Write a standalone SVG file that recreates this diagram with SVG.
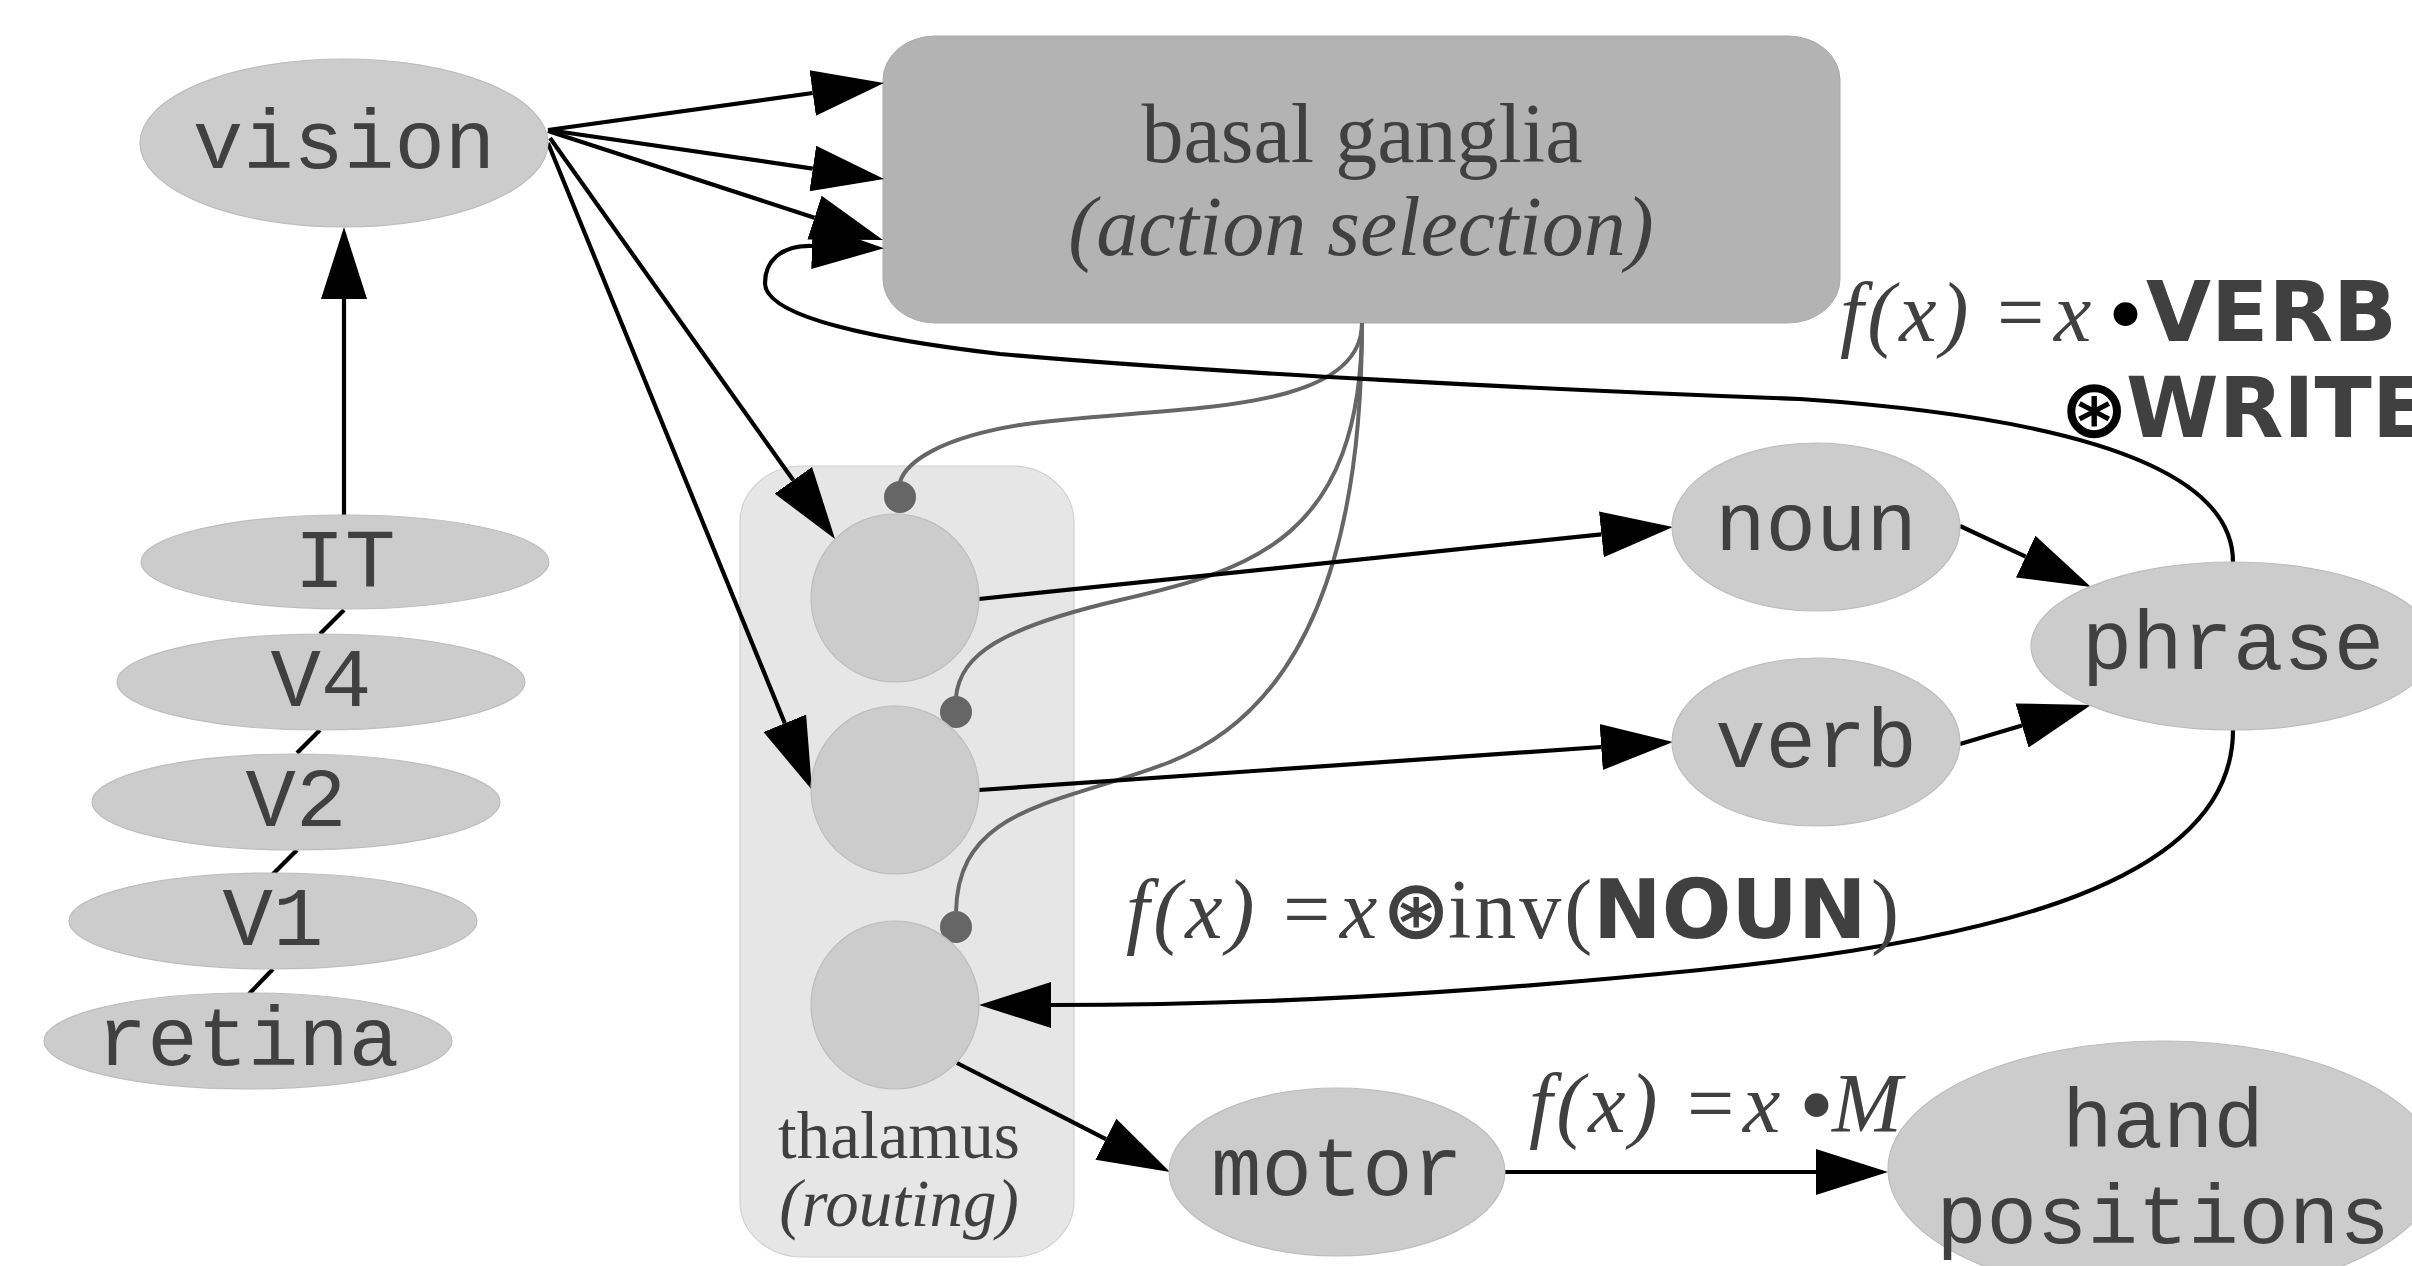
<svg xmlns="http://www.w3.org/2000/svg" width="2412" height="1266" viewBox="0 0 2412 1266">
  <defs>
    <marker id="arrow" markerUnits="userSpaceOnUse" markerWidth="80" markerHeight="60" viewBox="0 -30 80 60" refX="0" refY="0" orient="auto">
      <path d="M0,-23 L72,0 L0,23 z" fill="#000"/>
    </marker>
    <style>
      .node { fill: #cccccc; stroke: #bdbdbd; stroke-width: 1.2; }
      .mono { font-family: "Liberation Mono", "DejaVu Sans Mono", monospace; font-size: 84px; fill: #404040; text-anchor: middle; }
      .serif { font-family: "Liberation Serif", "DejaVu Serif", serif; fill: #404040; }
      .it { font-style: italic; }
      .sp { letter-spacing: 4px; }
      .sp3 { letter-spacing: 3px; }
      .bold { font-family: "DejaVu Sans", "Liberation Sans", sans-serif; font-weight: bold; font-style: normal; letter-spacing: 0; }
      .edge { fill: none; stroke: #000; stroke-width: 4.2; }
      .arr { marker-end: url(#arrow); }
      .inhib { fill: none; stroke: #666666; stroke-width: 4; }
      .dot { fill: #666666; }
    </style>
  </defs>

  <rect width="2412" height="1266" fill="#ffffff"/>

  <!-- thalamus container -->
  <g id="thalamus">
    <rect x="740" y="466" width="334" height="791" rx="62" ry="56" fill="#e6e6e6" stroke="#d0d0d0" stroke-width="1.2"/>
    <text class="serif" x="899" y="1158" font-size="67" text-anchor="middle">thalamus</text>
    <text class="serif it" x="899" y="1226" font-size="67" text-anchor="middle">(routing)</text>
  </g>

  <!-- basal ganglia -->
  <g id="basal-ganglia">
    <rect x="883" y="36" width="957" height="287" rx="52" ry="44" fill="#b3b3b3" stroke="#ababab" stroke-width="1"/>
    <text class="serif" x="1362" y="162" font-size="84" text-anchor="middle">basal ganglia</text>
    <text class="serif it" x="1361" y="255" font-size="84" text-anchor="middle">(action selection)</text>
  </g>

  <!-- inhibitory projections from basal ganglia to thalamus -->
  <g id="inhibition">
    <path class="inhib" d="M1362,323 C1362,420 1150,405 1020,425 C940,438 906,462 900,482"/>
    <path class="inhib" d="M1362,323 C1362,540 1250,570 1120,600 C1000,628 960,655 956,697"/>
    <path class="inhib" d="M1362,323 C1362,580 1290,715 1170,762 C1060,805 958,805 956,912"/>
    <circle class="dot" cx="900" cy="497" r="16"/>
    <circle class="dot" cx="956" cy="712" r="16"/>
    <circle class="dot" cx="956" cy="927" r="16"/>
  </g>

  <!-- connectors -->
  <g id="connectors">
    <!-- visual hierarchy -->
    <path class="edge" d="M344,610 L320,634"/>
    <path class="edge" d="M320,730 L297,753"/>
    <path class="edge" d="M297,850 L273,874"/>
    <path class="edge" d="M273,969 L249,994"/>
    <path class="edge arr" d="M344,515 L344,299"/>
    <!-- vision to basal ganglia -->
    <path class="edge arr" d="M548,130 L812.7,93"/>
    <path class="edge arr" d="M548,130 L812.8,168.6"/>
    <path class="edge arr" d="M548,131 L814.5,217.7"/>
    <!-- vision to thalamus -->
    <path class="edge arr" d="M550,138 L793.3,480.3"/>
    <path class="edge arr" d="M548,143 L784.8,723.3"/>
    <!-- thalamus to cortex -->
    <path class="edge arr" d="M979,599 L1601.4,534.4"/>
    <path class="edge arr" d="M979,790 L1601.2,747"/>
    <path class="edge arr" d="M957,1063 L1105.9,1139.2"/>
    <!-- into phrase -->
    <path class="edge arr" d="M1960,526 L2025.7,556.6"/>
    <path class="edge arr" d="M1960,744 L2022,725.5"/>
    <!-- motor output -->
    <path class="edge arr" d="M1505,1172 L1816,1172"/>
    <!-- phrase back to thalamus -->
    <path class="edge arr" d="M2233,730 C2233,880 2000,940 1700,970 C1450,995 1250,1005 1051,1005"/>
    <!-- phrase back to basal ganglia -->
    <path class="edge arr" d="M2233,562 C2233,470 2080,418 1800,399 C1550,390 1200,372 1000,354 C880,340 765,318 765,283 C765,262 780,245 812,246"/>
  </g>

  <!-- cortical nodes -->
  <g id="vision"><ellipse class="node" cx="344" cy="143" rx="204" ry="84"/><text class="mono" x="344" y="168">vision</text></g>
  <g id="IT"><ellipse class="node" cx="345" cy="562" rx="204" ry="47"/><text class="mono" x="345" y="587">IT</text></g>
  <g id="V4"><ellipse class="node" cx="321" cy="682" rx="204" ry="48"/><text class="mono" x="321" y="706">V4</text></g>
  <g id="V2"><ellipse class="node" cx="296" cy="802" rx="204" ry="48"/><text class="mono" x="296" y="826">V2</text></g>
  <g id="V1"><ellipse class="node" cx="273" cy="921" rx="204" ry="48"/><text class="mono" x="273" y="945">V1</text></g>
  <g id="retina"><ellipse class="node" cx="248" cy="1041" rx="204" ry="48"/><text class="mono" x="248" y="1065">retina</text></g>

  <g id="thal1"><circle class="node" cx="895" cy="598" r="84"/></g>
  <g id="thal2"><circle class="node" cx="895" cy="790" r="84"/></g>
  <g id="thal3"><circle class="node" cx="895" cy="1005" r="84"/></g>

  <g id="noun"><ellipse class="node" cx="1816" cy="527" rx="144" ry="84"/><text class="mono" x="1816" y="550">noun</text></g>
  <g id="verb"><ellipse class="node" cx="1816" cy="742" rx="144" ry="84"/><text class="mono" x="1816" y="767">verb</text></g>
  <g id="phrase"><ellipse class="node" cx="2233" cy="646" rx="202" ry="84"/><text class="mono" x="2233" y="669">phrase</text></g>
  <g id="motor"><ellipse class="node" cx="1337" cy="1172" rx="168" ry="84"/><text class="mono" x="1337" y="1195">motor</text></g>
  <g id="hand-positions"><ellipse class="node" cx="2163" cy="1169" rx="275" ry="128"/><text class="mono" x="2163" y="1147">hand</text><text class="mono" x="2163" y="1243">positions</text></g>

  <!-- edge labels -->
  <g id="labels" class="serif" font-size="84">
    <text y="341"><tspan class="it sp" x="1840">f(x)</tspan><tspan x="1997">=</tspan><tspan class="it" x="2054">x</tspan><tspan class="bold" x="2146" font-size="84">VERB</tspan></text>
    <text x="2108" y="347" font-size="100" fill="#000">•</text>
    <text y="437"><tspan class="bold" x="2060" font-size="82" fill="#000">⊛</tspan><tspan class="bold" x="2126" font-size="84">WRITE</tspan></text>
    <text y="938"><tspan class="it sp" x="1126">f(x)</tspan><tspan x="1283">=</tspan><tspan class="it" x="1340">x</tspan><tspan class="bold" x="1382" font-size="82">⊛</tspan><tspan class="sp3" x="1448">inv(</tspan><tspan class="bold" x="1593" font-size="82">NOUN</tspan><tspan x="1871">)</tspan></text>
    <text y="1132"><tspan class="it sp" x="1529">f(x)</tspan><tspan x="1687">=</tspan><tspan class="it" x="1743">x</tspan><tspan class="it" x="1832">M</tspan></text>
    <text x="1799" y="1138" font-size="100">•</text>
  </g>
</svg>
